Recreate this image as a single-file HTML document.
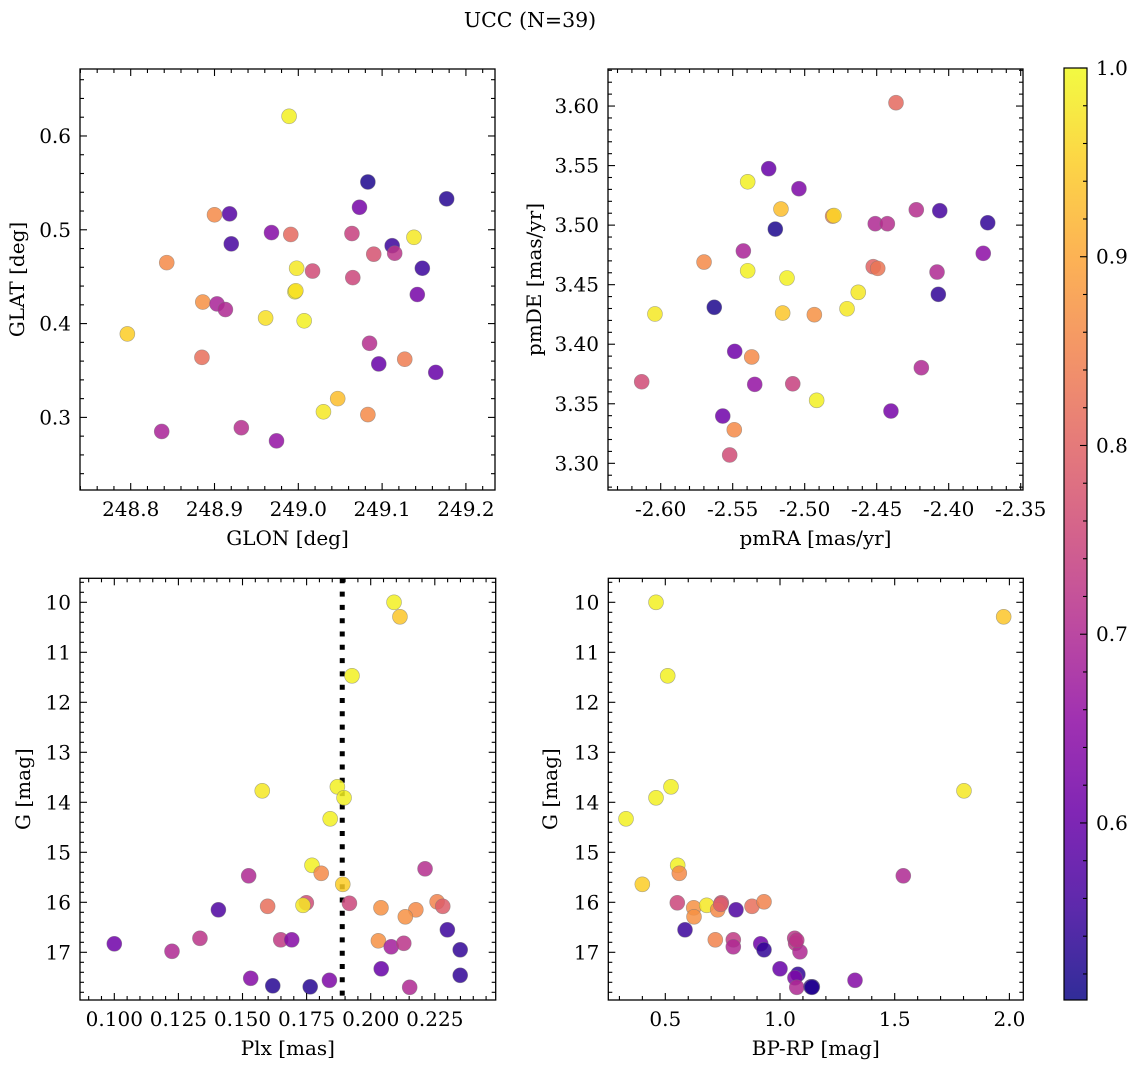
<!DOCTYPE html>
<html><head><meta charset="utf-8">
<style>
html,body{margin:0;padding:0;background:#fff;}
svg{display:block;font-family:"DejaVu Serif","Liberation Serif",serif;}
</style></head>
<body>
<svg id="fig" width="1136" height="1067" viewBox="0 0 1136 1067" xmlns="http://www.w3.org/2000/svg">
<rect width="1136" height="1067" fill="#fff"/>
<text x="530" y="27" text-anchor="middle" font-size="20.5">UCC (N=39)</text>
</svg>
<script>
// ---- data: panel 1 (GLON/GLAT) ----
const glon = [248.989,249.083,249.177,249.073,248.900,248.918,248.968,248.991,249.064,249.138,248.920,249.112,249.115,249.090,248.843,248.998,249.017,249.148,249.065,248.996,248.997,249.142,248.886,248.903,248.913,248.961,249.007,248.796,249.085,248.885,249.096,249.127,249.164,249.047,249.030,249.083,248.837,248.932,248.974];
const glat = [0.621,0.551,0.533,0.524,0.516,0.517,0.497,0.495,0.496,0.492,0.485,0.483,0.475,0.474,0.465,0.459,0.456,0.459,0.449,0.434,0.435,0.431,0.423,0.421,0.415,0.406,0.403,0.389,0.379,0.364,0.357,0.362,0.348,0.320,0.306,0.303,0.285,0.289,0.275];
const prob1 = [0.99,0.52,0.53,0.62,0.86,0.58,0.64,0.81,0.74,0.98,0.56,0.55,0.72,0.77,0.86,0.98,0.76,0.55,0.75,0.99,0.97,0.62,0.87,0.69,0.70,0.97,0.99,0.95,0.71,0.82,0.60,0.84,0.60,0.93,0.98,0.86,0.69,0.71,0.66];
// ---- data: panel 2 (pmRA/pmDE) ----
const pmra = [-2.4366,-2.525,-2.5396,-2.504,-2.5165,-2.4806,-2.4797,-2.4225,-2.4062,-2.451,-2.4426,-2.3729,-2.5204,-2.5426,-2.376,-2.5699,-2.4524,-2.4493,-2.5396,-2.4081,-2.5123,-2.4628,-2.4072,-2.5628,-2.4706,-2.604,-2.5153,-2.4933,-2.5486,-2.5368,-2.419,-2.6132,-2.5347,-2.5083,-2.4917,-2.4401,-2.5569,-2.5489,-2.5521];
const pmde = [3.6028,3.5474,3.5364,3.5306,3.5135,3.5076,3.508,3.5129,3.5121,3.5012,3.5012,3.502,3.4967,3.4783,3.4763,3.469,3.4651,3.4637,3.4617,3.4606,3.4556,3.4436,3.4419,3.431,3.4298,3.4254,3.4262,3.4248,3.394,3.3893,3.3803,3.3685,3.3663,3.3668,3.3529,3.3439,3.3397,3.3282,3.307];
const prob2 = [0.81,0.60,0.99,0.63,0.93,0.85,0.96,0.71,0.56,0.70,0.71,0.54,0.52,0.69,0.65,0.86,0.80,0.83,0.99,0.70,0.99,0.98,0.54,0.52,0.98,0.98,0.94,0.87,0.61,0.86,0.70,0.76,0.66,0.74,0.99,0.62,0.61,0.86,0.76];
// ---- data: panel 3 (Plx/G) ----
const plx = [0.2091,0.2114,0.1927,0.1577,0.1870,0.1896,0.1842,0.1771,0.1807,0.1524,0.2212,0.1891,0.1598,0.1749,0.1736,0.1917,0.2040,0.2176,0.2259,0.2281,0.2135,0.1406,0.2299,0.1000,0.1334,0.1225,0.1649,0.1692,0.2030,0.2080,0.2129,0.2349,0.2041,0.2349,0.1532,0.1618,0.1764,0.1839,0.2152];
const gmag3 = [10.0,10.29,11.47,13.77,13.69,13.91,14.33,15.26,15.42,15.47,15.33,15.64,16.08,16.01,16.06,16.02,16.11,16.15,15.99,16.08,16.29,16.15,16.55,16.83,16.72,16.98,16.75,16.75,16.77,16.89,16.82,16.95,17.33,17.46,17.52,17.67,17.69,17.56,17.70];
const prob3 = [0.99,0.94,0.99,0.98,0.99,0.99,0.99,0.99,0.86,0.70,0.71,0.95,0.82,0.76,0.98,0.75,0.87,0.86,0.85,0.79,0.87,0.57,0.55,0.61,0.72,0.70,0.73,0.64,0.87,0.68,0.72,0.54,0.60,0.54,0.64,0.53,0.53,0.63,0.70];
const plxMedian = [0.1889];
// ---- data: panel 4 (BP-RP/G) ----
const bprp = [0.4595,1.975,0.5105,1.802,0.5248,0.4595,0.3287,0.554,0.561,1.5375,0.3997,0.5523,0.6238,0.6251,0.6805,0.7441,0.7284,0.8082,0.8779,0.9303,0.5859,0.718,0.7964,0.7964,0.9159,0.9303,1.064,1.068,1.087,1.0,1.078,1.065,1.073,1.135,1.141,1.327,1.139,1.073,0.7415];
const gmag4 = [10.0,10.29,11.47,13.77,13.69,13.91,14.33,15.26,15.42,15.47,15.64,16.01,16.11,16.29,16.06,16.01,16.15,16.15,16.08,15.99,16.55,16.75,16.75,16.89,16.83,16.95,16.72,16.82,16.99,17.33,17.44,17.51,17.70,17.69,17.69,17.56,17.70,16.76,16.04];
const prob4 = [0.99,0.94,0.99,0.98,0.99,0.99,0.99,0.99,0.86,0.70,0.95,0.75,0.87,0.87,0.98,0.76,0.86,0.57,0.82,0.85,0.55,0.85,0.73,0.70,0.61,0.54,0.72,0.72,0.70,0.60,0.54,0.63,0.70,0.53,0.52,0.64,0.53,0.72,0.79];
// ---- tick labels ----
const ticks1x = [248.8,248.9,249.0,249.1,249.2];
const ticks1y = [0.3,0.4,0.5,0.6];
const ticks2x = [-2.60,-2.55,-2.50,-2.45,-2.40,-2.35];
const ticks2y = [3.30,3.35,3.40,3.45,3.50,3.55,3.60];
const ticks3x = [0.100,0.125,0.150,0.175,0.200,0.225];
const ticksG = [10,11,12,13,14,15,16,17];
const ticks4x = [0.5,1.0,1.5,2.0];
const ticksCb = [0.6,0.7,0.8,0.9,1.0];
const cbRange = [0.5062,1.0];

const FS=20;
const NS="http://www.w3.org/2000/svg";
const svg=document.getElementById('fig');
function mk(tag,attrs,parent){const e=document.createElementNS(NS,tag);for(const k in attrs)e.setAttribute(k,attrs[k]);(parent||svg).appendChild(e);return e;}
const stops=["#0d0887","#41049d","#6a00a8","#8f0da4","#b12a90","#cc4778","#e16462","#f2844b","#fca636","#fcce25","#f0f921"];
function hex(h){return [parseInt(h.substr(1,2),16),parseInt(h.substr(3,2),16),parseInt(h.substr(5,2),16)];}
function plasma(t){t=Math.max(0,Math.min(1,t));const f=t*10,i=Math.min(9,Math.floor(f)),u=f-i;const a=hex(stops[i]),b=hex(stops[i+1]);return 'rgb('+a.map((v,k)=>Math.round(v+(b[k]-v)*u)).join(',')+')';}
function cval(p){return plasma((p-cbRange[0])/(cbRange[1]-cbRange[0]));}

function panel(o){
  const g=mk('g',{});
  
  
  const sx=v=>o.L+(v-o.x0)/(o.x1-o.x0)*(o.R-o.L);
  const sy=v=>o.B-(v-o.y0)/(o.y1-o.y0)*(o.B-o.T);
  const clip='clip-'+o.name;
  const cp=mk('clipPath',{id:clip},g);mk('rect',{x:o.L,y:o.T,width:o.R-o.L,height:o.B-o.T},cp);
  const pg=mk('g',{'clip-path':'url(#'+clip+')'},g);
  if(o.vline){const l=mk('line',{x1:sx(o.vline[0]),x2:sx(o.vline[0]),y1:o.T,y2:o.B,stroke:'#000','stroke-width':5,'stroke-dasharray':'5,8.3'},pg);
    
    }
  for(let i=0;i<o.xs.length;i++){
    const c=mk('circle',{cx:sx(o.xs[i]),cy:sy(o.ys[i]),r:7.5,fill:cval(o.cs[i]),'fill-opacity':0.85,stroke:'#777','stroke-opacity':0.6,'stroke-width':0.6},pg);
    
    
  }
  mk('rect',{x:o.L,y:o.T,width:o.R-o.L,height:o.B-o.T,fill:'none',stroke:'#000','stroke-width':1.3},g);
  const xmin=Math.min(o.x0,o.x1),xmax=Math.max(o.x0,o.x1),ymin=Math.min(o.y0,o.y1),ymax=Math.max(o.y0,o.y1);
  const eps=1e-9;
  for(let v=Math.ceil(xmin/o.xm-eps)*o.xm;v<=xmax+eps;v+=o.xm){const X=sx(v);const maj=Math.abs(v/o.xstep-Math.round(v/o.xstep))<1e-4;const len=maj?7:4;
    mk('line',{x1:X,x2:X,y1:o.B,y2:o.B-len,stroke:'#000','stroke-width':1.1},g);mk('line',{x1:X,x2:X,y1:o.T,y2:o.T+len,stroke:'#000','stroke-width':1.1},g);}
  for(let v=Math.ceil(ymin/o.ym-eps)*o.ym;v<=ymax+eps;v+=o.ym){const Y=sy(v);const maj=Math.abs(v/o.ystep-Math.round(v/o.ystep))<1e-4;const len=maj?7:4;
    mk('line',{x1:o.L,x2:o.L+len,y1:Y,y2:Y,stroke:'#000','stroke-width':1.1},g);mk('line',{x1:o.R,x2:o.R-len,y1:Y,y2:Y,stroke:'#000','stroke-width':1.1},g);}
  o.xt.forEach(v=>{const t=mk('text',{x:sx(v),y:o.B+26,'text-anchor':'middle','font-size':FS},g);t.textContent=v.toFixed(o.xd);
    
    });
  o.yt.forEach(v=>{const t=mk('text',{x:o.L-9,y:sy(v)+7,'text-anchor':'end','font-size':FS},g);t.textContent=v.toFixed(o.yd);
    
    });
  const xl=mk('text',{x:(o.L+o.R)/2,y:o.B+55,'text-anchor':'middle','font-size':FS},g);xl.textContent=o.xlab;
  
  
  const yl=mk('text',{x:0,y:0,'text-anchor':'middle','font-size':FS,transform:'translate('+o.ylx+','+((o.T+o.B)/2)+') rotate(-90)'},g);yl.textContent=o.ylab;
  
  
}
panel({name:'panel-glon-glat',L:80,R:495,T:69,B:490,x0:248.7395,x1:249.2347,y0:0.2226,y1:0.6714,xs:glon,ys:glat,cs:prob1,xt:ticks1x,yt:ticks1y,xd:1,yd:1,xstep:0.1,xm:0.02,ystep:0.1,ym:0.02,xlab:'GLON [deg]',ylab:'GLAT [deg]',ylx:24});
panel({name:'panel-pm',L:608,R:1023,T:69,B:490,x0:-2.6366,x1:-2.3484,y0:3.2776,y1:3.6311,xs:pmra,ys:pmde,cs:prob2,xt:ticks2x,yt:ticks2y,xd:2,yd:2,xstep:0.05,xm:0.01,ystep:0.05,ym:0.01,xlab:'pmRA [mas/yr]',ylab:'pmDE [mas/yr]',ylx:541});
panel({name:'panel-plx-g',L:80,R:495.7,T:578.3,B:1000,x0:0.08662,x1:0.24875,y0:17.954,y1:9.52,xs:plx,ys:gmag3,cs:prob3,xt:ticks3x,yt:ticksG,xd:3,yd:0,xstep:0.025,xm:0.005,ystep:1,ym:0.2,xlab:'Plx [mas]',ylab:'G [mag]',ylx:30,vline:plxMedian});
panel({name:'panel-cmd',L:608.3,R:1023.3,T:578.3,B:1000,x0:0.2515,x1:2.0606,y0:17.954,y1:9.52,xs:bprp,ys:gmag4,cs:prob4,xt:ticks4x,yt:ticksG,xd:1,yd:0,xstep:0.5,xm:0.1,ystep:1,ym:0.2,xlab:'BP-RP [mag]',ylab:'G [mag]',ylx:557});

// colorbar
const cb=mk('g',{});


const defs=mk('defs',{},cb);const lg=mk('linearGradient',{id:'cbg',x1:0,y1:1,x2:0,y2:0},defs);
for(let i=0;i<=20;i++){mk('stop',{offset:i/20,'stop-color':plasma(i/20)},lg);}
const cT=68,cB=1000,cL=1064,cR=1087;
mk('rect',{x:cL,y:cT,width:cR-cL,height:cB-cT,fill:'url(#cbg)','fill-opacity':0.85},cb);
mk('rect',{x:cL,y:cT,width:cR-cL,height:cB-cT,fill:'none',stroke:'#000','stroke-width':1.2},cb);
const cy=v=>cB-(v-cbRange[0])/(cbRange[1]-cbRange[0])*(cB-cT);
for(let v=0.52;v<=1.0001;v+=0.02){const Y=cy(v);const maj=Math.abs(v*10-Math.round(v*10))<1e-4;mk('line',{x1:cR,x2:cR-(maj?7:4),y1:Y,y2:Y,stroke:'#000','stroke-width':1.1},cb);}
ticksCb.forEach(v=>{const t=mk('text',{x:cR+9,y:cy(v)+7,'font-size':FS},cb);t.textContent=v.toFixed(1);
  
  });
</script>
</body></html>
